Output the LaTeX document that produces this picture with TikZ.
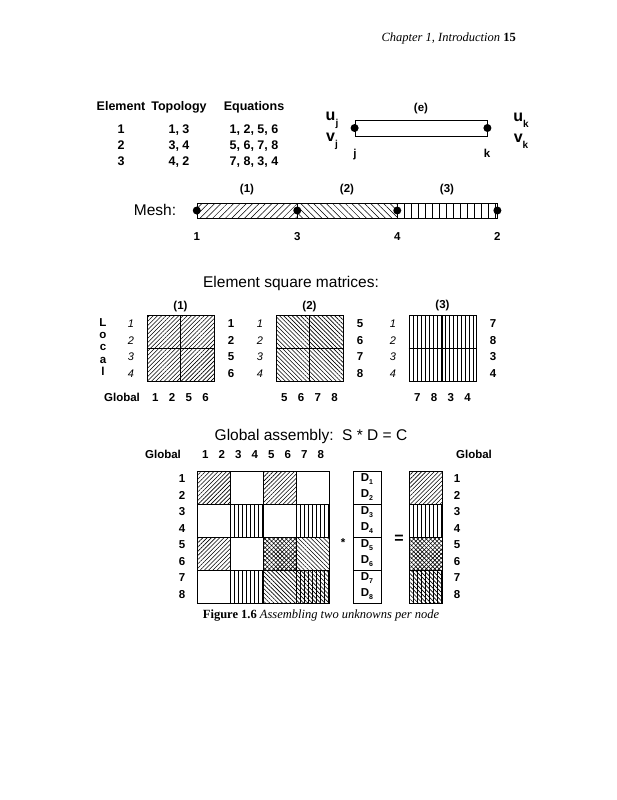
\documentclass[tikz,border=0pt]{standalone}
\usepackage{fontspec}
\setmainfont{Liberation Serif}
\setsansfont{Liberation Sans}
\usetikzlibrary{positioning,patterns,patterns.meta}
\newcommand{\dsub}[1]{D\raisebox{-.5ex}{\fontsize{7}{8}\selectfont #1}}
\newcommand{\usub}[2]{#1\raisebox{-.7ex}{\fontsize{10}{11}\selectfont #2}}
\tikzset{
  head/.style={font=\fontsize{12.5}{14}\selectfont,inner sep=0pt},
  bfsans/.style={font=\sffamily\bfseries\fontsize{11.5}{16}\selectfont,inner sep=0pt},
  lbl/.style={bfsans,text height=.72em,text depth=0pt},
  thead/.style={lbl,font=\sffamily\bfseries\fontsize{12.5}{16}\selectfont},
  ital/.style={font=\sffamily\itshape\fontsize{11}{13}\selectfont,inner sep=0pt,
               text height=.72em,text depth=0pt},
  big/.style={font=\sffamily\fontsize{15.5}{18}\selectfont,inner sep=0pt},
  uv/.style={font=\sffamily\bfseries\fontsize{16}{18}\selectfont,inner sep=0pt},
  dot/.style={circle,fill,inner sep=0pt,minimum size=8pt},
  box/.style={draw,line width=.8pt,inner sep=0pt},
  bar/.style={box,minimum width=100pt,minimum height=15pt},
  mat/.style={box,minimum width=67pt,minimum height=66pt},
  cell/.style={box,minimum width=33pt,minimum height=33pt},
  dvec/.style={box,bfsans,align=center,minimum width=28pt,minimum height=33pt},
  pa/.style={pattern={Lines[angle=45,distance=3pt,line width=.6pt]}},
  pb/.style={pattern={Lines[angle=-45,distance=3pt,line width=.6pt]}},
  vlines/.style={path picture={
      \foreach \xx in {#1,...,100}
        \draw[line width=.6pt] ([xshift=\xx pt]path picture bounding box.north west)
          -- ([xshift=\xx pt]path picture bounding box.south west);}},
  pv/.style={vlines={0,4}},
  pab/.style={preaction={pa},pb},
  pbv/.style={pb,pv},
  pn/.style={},
}
\begin{document}
\begin{tikzpicture}[x=1pt,y=-1pt]
  \useasboundingbox (0,0) rectangle (617,800);
  \node[head,anchor=east] (hdr) at (516,38) {\textit{Chapter 1, Introduction} \textbf{15}};

  % topology table
  \node[thead] (th1) at (121,107) {Element};
  \node[thead] (th2) at (179,107) {Topology};
  \node[thead] (th3) at (254,107) {Equations};
  \foreach \e/\t/\q in {1/{1, 3}/{1, 2, 5, 6},2/{3, 4}/{5, 6, 7, 8},3/{4, 2}/{7, 8, 3, 4}} {
    \node[thead] (te\e) at (121,114+16*\e) {\e};
    \node[thead] (tt\e) at (179,114+16*\e) {\t};
    \node[thead] (tq\e) at (254,114+16*\e) {\q};
  }

  % one element
  \node[box,minimum width=132pt,minimum height=16pt] (el) at (421,128) {};
  \node[dot] (ej) at (el.west) {};
  \node[dot] (ek) at (el.east) {};
  \node[lbl,above=8pt of el] (elt) {(e)};
  \node[uv] (uj) at (332,120) {\usub{u}{j}};
  \node[uv] (vj) at (332,141) {\usub{v}{j}};
  \node[uv] (uk) at (521,120) {\usub{u}{k}};
  \node[uv] (vk) at (521,141) {\usub{v}{k}};
  \node[lbl] (lj) at (355,154) {j};
  \node[lbl] (lk) at (487,154) {k};

  % mesh
  \node[big] (mesh) at (155,210) {Mesh:};
  \node[bar,pattern={Lines[angle=45,distance=4.5pt,line width=.5pt]}] (b1) at (247,210.5) {};
  \node[bar,pattern={Lines[angle=-45,distance=4.5pt,line width=.5pt]}] (b2) at (347,210.5) {};
  \node[bar,vlines={0,7}] (b3) at (447,210.5) {};
  \node[dot] (n1) at (b1.west) {};
  \node[dot] (n3) at (b1.east) {};
  \node[dot] (n4) at (b2.east) {};
  \node[dot] (n2) at (b3.east) {};
  \foreach \b in {1,2,3}
    \node[lbl,above=10pt of b\b] (bt\b) {(\b)};
  \node[lbl,below=15pt of b1.south west] (g1) {1};
  \node[lbl,below=15pt of b1.south east] (g3) {3};
  \node[lbl,below=15pt of b2.south east] (g4) {4};
  \node[lbl,below=15pt of b3.south east] (g2) {2};

  % element matrices
  \node[big] (esm) at (291,283) {Element square matrices:};
  \foreach \c/\yy in {L/323,o/335,c/347,a/360,l/372}
    \node[lbl] (loc\c) at (103,\yy) {\c};
  \node[lbl] (glo) at (122,398) {Global};
  \foreach \m/\x/\p/\ga/\gb/\gc/\gd in {1/180.5/pa/1/2/5/6,2/309.5/pb/5/6/7/8,3/442.5/pv/7/8/3/4} {
    \node[mat,\p] (m\m) at (\x,348.5) {};
    \draw[line width=.6pt] (m\m.north) -- (m\m.south) (m\m.west) -- (m\m.east);
    \node[lbl,above=6pt of m\m] (mt\m) {(\m)};
    \foreach \r/\g in {1/\ga,2/\gb,3/\gc,4/\gd} {
      \node[ital] (ml\m\r) at ({\x-49.5},{307.75+16.5*\r}) {\r};
      \node[lbl] (mr\m\r) at ({\x+50.5},{307.75+16.5*\r}) {\g};
      \node[lbl] (mg\m\r) at ({\x-41.875+16.75*\r},398) {\g};
    }
  }

  % global assembly
  \node[big] (gas) at (311,436) {Global assembly:\ \ S * D = C};
  \node[lbl] (gl) at (163,455) {Global};
  \node[lbl] (gr) at (474,455) {Global};
  \foreach \k in {1,...,8} {
    \node[lbl] (gc\k) at ({188.75+16.5*\k},455) {\k};
    \node[lbl] (gw\k) at (182,{462.75+16.5*\k}) {\k};
    \node[lbl] (gs\k) at (457,{462.75+16.5*\k}) {\k};
  }
  \foreach \i/\j/\p in {1/1/pa,1/2/pn,1/3/pa,1/4/pn,
                        2/1/pn,2/2/pv,2/3/pn,2/4/pv,
                        3/1/pa,3/2/pn,3/3/pab,3/4/pb,
                        4/1/pn,4/2/pv,4/3/pb,4/4/pbv}
    \node[cell,\p] (s\i\j) at ({180.5+33*\j},{454.5+33*\i}) {};
  \foreach \k [evaluate=\k as \a using int(2*\k-1),evaluate=\k as \b using int(2*\k)] in {1,...,4}
    \node[dvec] (d\k) at (367,{454.5+33*\k}) {\dsub{\a}\\\dsub{\b}};
  \foreach \k/\p in {1/pa,2/pv,3/pab,4/pbv}
    \node[cell,\p] (c\k) at (425.5,{454.5+33*\k}) {};
  \node[lbl] (star) at (343,543) {*};
  \node[uv] (eq) at (399,539) {=};

  \node[head] (cap) at (321,616) {\textbf{Figure 1.6} \textit{Assembling two unknowns per node}};
\end{tikzpicture}
\end{document}
